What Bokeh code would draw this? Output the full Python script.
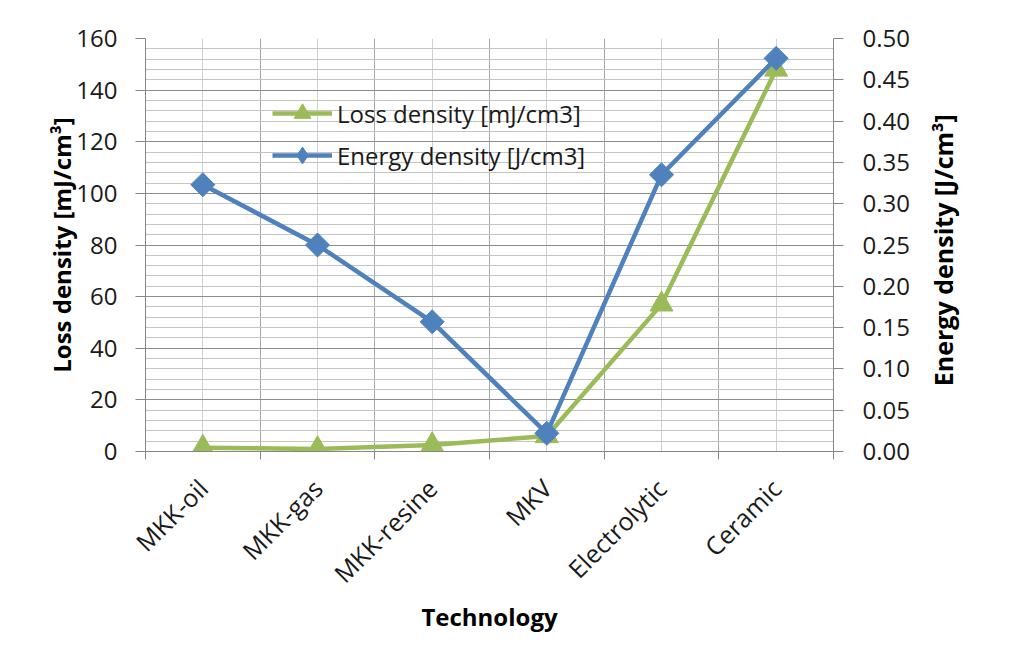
from math import pi
from bokeh.plotting import figure
from bokeh.layouts import row
from bokeh.models import (FixedTicker, LinearAxis, Range1d, Grid,
                          NumeralTickFormatter, CustomJSTickFormatter)
from bokeh.core.properties import value
from bokeh.embed import file_html
from bokeh.resources import INLINE

categories = ["MKK-oil", "MKK-gas", "MKK-resine", "MKV", "Electrolytic", "Ceramic"]
loss_density = [1.5, 1.0, 2.5, 6.0, 57.0, 148.0]          # mJ/cm3 (left axis)
energy_density = [0.323, 0.250, 0.157, 0.022, 0.335, 0.476]  # J/cm3 (right axis)
left_ticks = [0, 20, 40, 60, 80, 100, 120, 140, 160]
right_ticks = [0.00, 0.05, 0.10, 0.15, 0.20, 0.25, 0.30, 0.35, 0.40, 0.45, 0.50]
right_title_text = "Energy density [J/cm³]"

n = len(categories)
xs = [i + 0.5 for i in range(n)]

GREEN = "#9BBB59"
BLUE = "#4F81BD"
AXIS = "#868686"
FONT = "Open Sans"
TXT = "#1a1a1a"

p = figure(width=922, height=650, output_backend="svg", toolbar_location=None,
           x_axis_type=None, y_axis_type=None,
           x_range=Range1d(0, n), y_range=Range1d(0, 160),
           min_border_left=145, min_border_right=89,
           min_border_top=38, min_border_bottom=199)
p.extra_y_ranges = {"energy": Range1d(0, 0.5)}
p.outline_line_color = None
p.background_fill_color = "white"
p.border_fill_color = "white"

# grids
xgrid = Grid(dimension=0,
             ticker=FixedTicker(ticks=list(range(1, n)), minor_ticks=xs),
             grid_line_color="#a6a6a6", grid_line_width=1,
             minor_grid_line_color="#d0d0d0", minor_grid_line_width=1)
ygrid = Grid(dimension=1,
             ticker=FixedTicker(ticks=left_ticks,
                                minor_ticks=[v for v in range(0, 161, 4) if v % 20]),
             grid_line_color="#8c8c8c", grid_line_width=1,
             minor_grid_line_color="#c4c4c4", minor_grid_line_width=1)
p.add_layout(xgrid)
p.add_layout(ygrid)

def style_axis(ax):
    ax.axis_line_color = AXIS
    ax.axis_line_width = 1
    ax.major_tick_line_color = AXIS
    ax.minor_tick_out = 0
    ax.minor_tick_in = 0
    ax.major_tick_in = 0
    ax.major_label_text_font = FONT
    ax.major_label_text_font_size = "24px"
    ax.major_label_text_color = TXT
    ax.axis_label_text_font = FONT
    ax.axis_label_text_font_style = "bold"
    ax.axis_label_text_color = "#000000"

# bottom: tick marks at category boundaries
ax_ticks = LinearAxis(ticker=FixedTicker(ticks=list(range(0, n + 1))),
                      formatter=CustomJSTickFormatter(code="return ''"))
style_axis(ax_ticks)
ax_ticks.major_tick_out = 8
ax_ticks.major_label_text_font_size = "0px"
ax_ticks.major_label_standoff = 0
p.add_layout(ax_ticks, "below")

# bottom: category labels
ax_cat = LinearAxis(ticker=FixedTicker(ticks=xs),
                    formatter=CustomJSTickFormatter(args=dict(cats=categories),
                                                    code="return cats[Math.floor(tick)] || ''"),
                    axis_label="Technology")
style_axis(ax_cat)
ax_cat.axis_line_color = None
ax_cat.major_tick_line_color = None
ax_cat.major_tick_out = 0
ax_cat.major_label_orientation = pi / 4
ax_cat.major_label_text_font_size = "25px"
ax_cat.major_label_standoff = 24
ax_cat.axis_label_text_font_size = "24px"
ax_cat.axis_label_standoff = -5
p.add_layout(ax_cat, "below")

# left axis
ax_left = LinearAxis(ticker=FixedTicker(ticks=left_ticks),
                     axis_label="Loss density [mJ/cm³]")
style_axis(ax_left)
ax_left.major_tick_out = 10
ax_left.major_label_standoff = 18
ax_left.axis_label_text_font_size = "24px"
ax_left.axis_label_standoff = -5
p.add_layout(ax_left, "left")

# right axis
ax_right = LinearAxis(y_range_name="energy", ticker=FixedTicker(ticks=right_ticks),
                      formatter=NumeralTickFormatter(format="0.00"))
style_axis(ax_right)
ax_right.major_tick_out = 10
ax_right.major_label_standoff = 19
p.add_layout(ax_right, "right")

# series
p.line(xs, loss_density, line_color=GREEN, line_width=4.5,
       legend_label="Loss density [mJ/cm3]")
p.scatter(xs, loss_density, marker="triangle", size=23, fill_color=GREEN,
          line_color=GREEN, legend_label="Loss density [mJ/cm3]")
p.line(xs, energy_density, line_color=BLUE, line_width=4.5, y_range_name="energy",
       legend_label="Energy density [J/cm3]")
p.scatter(xs, energy_density, marker="square", angle=pi / 4, size=17, fill_color=BLUE,
          line_color=BLUE, y_range_name="energy")
# legend swatch for the diamond marker (not drawn in the plot area)
p.scatter(xs, energy_density, marker="diamond", size=20, fill_color=BLUE,
          line_color=BLUE, y_range_name="energy", visible=False,
          legend_label="Energy density [J/cm3]")

lg = p.legend[0]
lg.location = (127, 275)
lg.background_fill_alpha = 0
lg.border_line_alpha = 0
lg.label_text_font = FONT
lg.label_text_font_size = "24px"
lg.label_text_color = TXT
lg.glyph_width = 60
lg.glyph_height = 42
lg.label_height = 42
lg.spacing = 0
lg.padding = 0
lg.margin = 0
lg.label_standoff = 5

# narrow strip holding the right-axis title (reads bottom-to-top)
p2 = figure(width=40, height=650, output_backend="svg", toolbar_location=None,
            x_axis_type=None, y_axis_type=None,
            x_range=Range1d(0, 1), y_range=p.y_range,
            min_border_left=0, min_border_right=0,
            min_border_top=38, min_border_bottom=199)
p2.outline_line_color = None
p2.background_fill_color = "white"
p2.border_fill_color = "white"
p2.text(x=[0.5], y=[78], text=[right_title_text], angle=pi / 2,
        text_align="center", text_baseline="middle",
        text_font=value(FONT), text_font_size="25px", text_font_style="bold",
        text_color="#000000")

layout = row(p, p2, spacing=0)
open("out.html", "w").write(file_html(layout, INLINE))
